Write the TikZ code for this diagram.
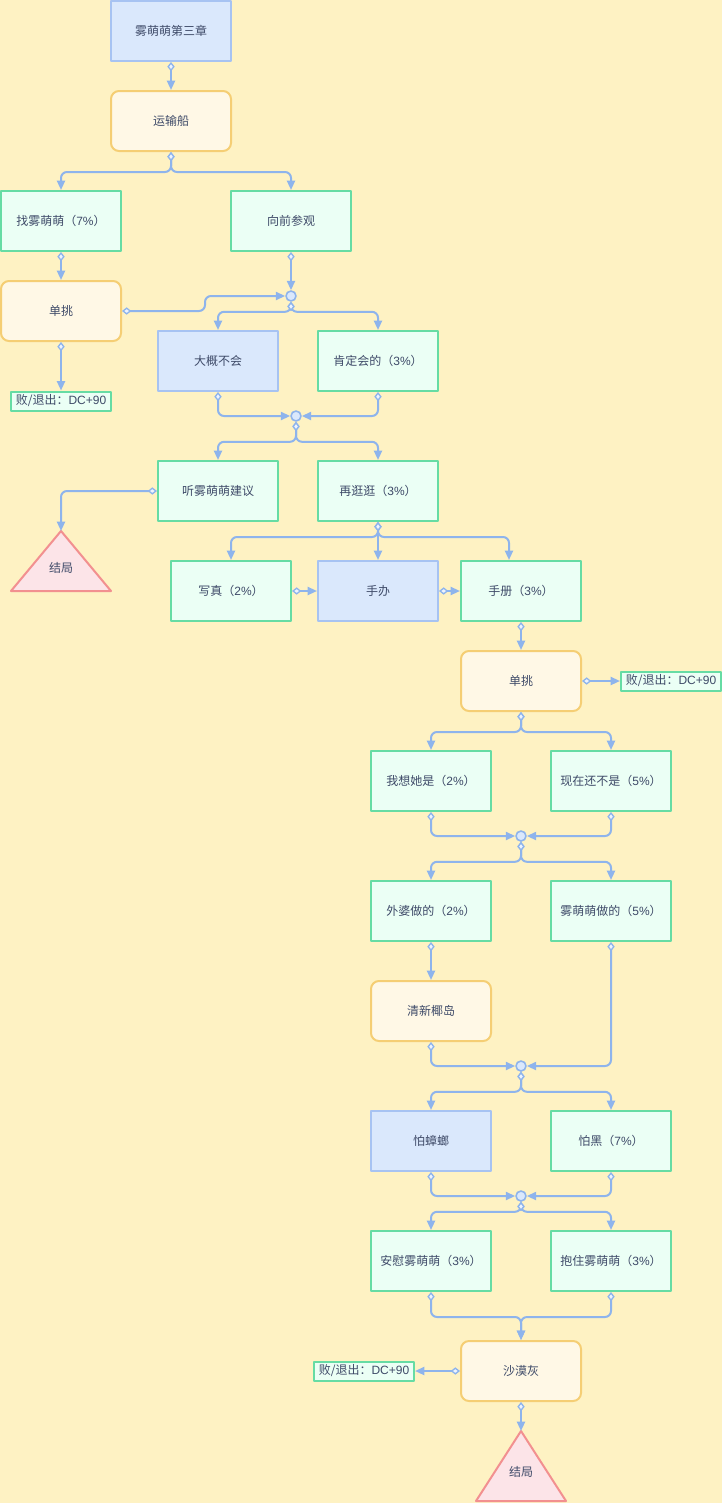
\documentclass[tikz,border=0pt]{standalone}
\usepackage{fontspec}
\setmainfont{Noto Sans CJK SC}
\newfontfamily\latfont{Liberation Sans}
\usetikzlibrary{arrows.meta}

\definecolor{bgyellow}{HTML}{FEF2C3}
\definecolor{linkblue}{HTML}{8EB4EC}
\definecolor{blueFill}{HTML}{DAE8FC}
\definecolor{blueLine}{HTML}{A7C3F2}
\definecolor{greenFill}{HTML}{EBFFF5}
\definecolor{greenLine}{HTML}{66DCA4}
\definecolor{orangeFill}{HTML}{FFF8E6}
\definecolor{orangeLine}{HTML}{F5CE74}
\definecolor{redFill}{HTML}{FCE4E8}
\definecolor{redLine}{HTML}{F29090}
\definecolor{txtgray}{HTML}{3E4A68}
\definecolor{diaFill}{HTML}{EEF4FE}

% latin part of a label
\newcommand{\pc}[1]{{\latfont #1}}

\begin{document}
\begin{tikzpicture}[x=0.75pt,y=-0.75pt,line join=round,
  font=\fontsize{9}{11}\selectfont, text=txtgray,
  base/.style={line width=1.5pt, minimum width=90pt, minimum height=45pt, inner sep=0pt},
  chapter/.style={base, draw=blueLine, fill=blueFill},
  choice/.style={base, draw=greenLine, fill=greenFill},
  scene/.style={base, draw=orangeLine, fill=orangeFill, rounded corners=6pt},
  exitbox/.style={line width=1.5pt, draw=greenLine, fill=greenFill, minimum width=75pt, minimum height=14.25pt, inner sep=0pt},
  junc/.style={circle, draw=linkblue, fill=blueFill, line width=1.2pt, minimum size=7.5pt, inner sep=0pt},
  endtri/.style={line width=1.5pt, draw=redLine, fill=redFill},
  link/.style={draw=linkblue, line width=1.5pt, rounded corners=4.5pt,
    {Diamond[length=7pt,width=5.5pt,line width=1pt,fill=diaFill]}-{Triangle[length=7pt,width=6pt]}}]

% background
\fill[bgyellow] (0,0) rectangle (722,1503);

% nodes
\node[chapter] (title) at (171,31) {雾萌萌第三章};
\node[scene] (yunshu) at (171,121) {运输船};
\node[choice] (zhao) at (61,221) {找雾萌萌（\pc{7\%}）};
\node[choice] (xiangqian) at (291,221) {向前参观};
\node[scene] (dan1) at (61,311) {单挑};
\node[junc] (j1) at (291,296) {};
\node[exitbox] (fail1) at (61,401) {败/退出：\pc{DC+90}};
\node[chapter] (dagai) at (218,361) {大概不会};
\node[choice] (kending) at (378,361) {肯定会的（\pc{3\%}）};
\node[junc] (j2) at (296,416) {};
\node[choice] (ting) at (218,491) {听雾萌萌建议};
\node[choice] (zai) at (378,491) {再逛逛（\pc{3\%}）};
\node[choice] (xiezhen) at (231,591) {写真（\pc{2\%}）};
\node[chapter] (shouban) at (378,591) {手办};
\node[choice] (shouce) at (521,591) {手册（\pc{3\%}）};
\node[scene] (dan2) at (521,681) {单挑};
\node[exitbox] (fail2) at (671,681) {败/退出：\pc{DC+90}};
\node[choice] (woxiang) at (431,781) {我想她是（\pc{2\%}）};
\node[choice] (xianzai) at (611,781) {现在还不是（\pc{5\%}）};
\node[junc] (j3) at (521,836) {};
\node[choice] (waipo) at (431,911) {外婆做的（\pc{2\%}）};
\node[choice] (wumeng) at (611,911) {雾萌萌做的（\pc{5\%}）};
\node[scene] (qingxin) at (431,1011) {清新椰岛};
\node[junc] (j4) at (521,1066) {};
\node[chapter] (pazhang) at (431,1141) {怕蟑螂};
\node[choice] (pahei) at (611,1141) {怕黑（\pc{7\%}）};
\node[junc] (j5) at (521,1196) {};
\node[choice] (anwei) at (431,1261) {安慰雾萌萌（\pc{3\%}）};
\node[choice] (baozhu) at (611,1261) {抱住雾萌萌（\pc{3\%}）};
\node[scene] (shamo) at (521,1371) {沙漠灰};
\node[exitbox] (fail3) at (364,1371) {败/退出：\pc{DC+90}};

% endings
\filldraw[endtri] (11,591) -- (61,531) -- (111,591) -- cycle;
\coordinate (end1) at (61,531);
\node (end1txt) at (61,568) {结局};
\filldraw[endtri] (476,1501) -- (521,1431) -- (566,1501) -- cycle;
\coordinate (end2) at (521,1431);
\node (end2txt) at (521,1472) {结局};

% links
\draw[link] (title) -- (yunshu);
\draw[link] (yunshu.south) -- ++(0,20) -| (zhao.north);
\draw[link] (yunshu.south) -- ++(0,20) -| (xiangqian.north);
\draw[link] (zhao) -- (dan1);
\draw[link] (xiangqian) -- (j1);
\draw[link] (dan1.east) -- ++(83,0) |- (j1.west);
\draw[link] (dan1) -- (fail1);
\draw[link] (j1.south) -- ++(0,10) -| (dagai.north);
\draw[link] (j1.south) -- ++(0,10) -| (kending.north);
\draw[link] (dagai.south) |- (j2.west);
\draw[link] (kending.south) |- (j2.east);
\draw[link] (j2.south) -- ++(0,20) -| (ting.north);
\draw[link] (j2.south) -- ++(0,20) -| (zai.north);
\draw[link] (ting.west) -| (end1);
\draw[link] (zai.south) -- ++(0,15) -| (xiezhen.north);
\draw[link] (zai) -- (shouban);
\draw[link] (zai.south) -- ++(0,15) -| ([xshift=-9pt]shouce.north);
\draw[link] (xiezhen) -- (shouban);
\draw[link] (shouban) -- (shouce);
\draw[link] (shouce) -- (dan2);
\draw[link] (dan2) -- (fail2);
\draw[link] (dan2.south) -- ++(0,20) -| (woxiang.north);
\draw[link] (dan2.south) -- ++(0,20) -| (xianzai.north);
\draw[link] (woxiang.south) |- (j3.west);
\draw[link] (xianzai.south) |- (j3.east);
\draw[link] (j3.south) -- ++(0,20) -| (waipo.north);
\draw[link] (j3.south) -- ++(0,20) -| (wumeng.north);
\draw[link] (waipo) -- (qingxin);
\draw[link] (qingxin.south) |- (j4.west);
\draw[link] (wumeng.south) |- (j4.east);
\draw[link] (j4.south) -- ++(0,20) -| (pazhang.north);
\draw[link] (j4.south) -- ++(0,20) -| (pahei.north);
\draw[link] (pazhang.south) |- (j5.west);
\draw[link] (pahei.south) |- (j5.east);
\draw[link] (j5.south) -- ++(0,10) -| (anwei.north);
\draw[link] (j5.south) -- ++(0,10) -| (baozhu.north);
\draw[link] (anwei.south) -- ++(0,25) -| (shamo.north);
\draw[link] (baozhu.south) -- ++(0,25) -| (shamo.north);
\draw[link] (shamo) -- (fail3);
\draw[link] (shamo) -- (end2);

\end{tikzpicture}
\end{document}
